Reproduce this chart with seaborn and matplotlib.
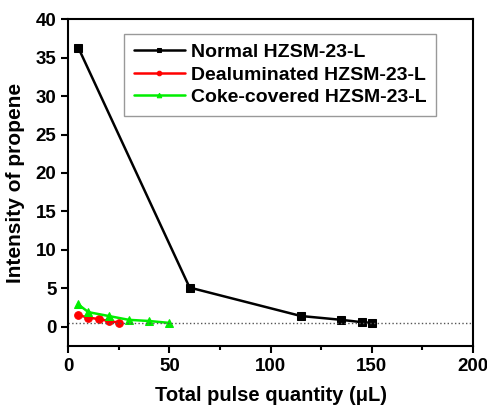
import matplotlib
matplotlib.use('Agg')
import matplotlib.pyplot as plt
import seaborn as sns
import pandas as pd
from matplotlib.ticker import MultipleLocator

# datos
normal_x = [5, 60, 115, 135, 145, 150]
normal_y = [36.3, 5.1, 1.4, 0.9, 0.6, 0.5]
dealu_x = [5, 10, 15, 20, 25]
dealu_y = [1.5, 1.2, 1.0, 0.75, 0.55]
coke_x = [5, 10, 20, 30, 40, 50]
coke_y = [2.9, 1.9, 1.4, 0.9, 0.75, 0.5]
baseline = 0.5

sns.set_style('ticks')
plt.rcParams['font.family'] = ['Liberation Sans', 'DejaVu Sans']
plt.rcParams['font.weight'] = 'bold'
plt.rcParams['text.color'] = 'black'
plt.rcParams['axes.labelcolor'] = 'black'
plt.rcParams['xtick.color'] = 'black'
plt.rcParams['ytick.color'] = 'black'

fig = plt.figure(figsize=(4.87, 4.08), dpi=100)
ax = fig.add_axes([0.14, 0.152, 0.831, 0.801])

series = [
    ('Normal HZSM-23-L', normal_x, normal_y, 'black', 's'),
    ('Dealuminated HZSM-23-L', dealu_x, dealu_y, 'red', 'o'),
    ('Coke-covered HZSM-23-L', coke_x, coke_y, '#00ee00', '^'),
]
for name, xs, ys, col, mk in series:
    df = pd.DataFrame({'x': xs, 'y': ys})
    sns.lineplot(data=df, x='x', y='y', ax=ax, color=col, marker=mk,
                 markersize=5.5, markeredgecolor=col, linewidth=1.8, label=name)

ax.axhline(baseline, color='#555555', linestyle=':', linewidth=1)

ax.set_xlim(0, 200)
ax.set_ylim(-2.5, 40)
ax.xaxis.set_major_locator(MultipleLocator(50))
ax.xaxis.set_minor_locator(MultipleLocator(25))
ax.yaxis.set_major_locator(MultipleLocator(5))
ax.tick_params(which='major', direction='out', length=5, width=1.5, labelsize=13.5)
ax.tick_params(which='minor', direction='out', length=3, width=1.5)
for lab in ax.get_xticklabels() + ax.get_yticklabels():
    lab.set_fontweight('bold')
for s in ax.spines.values():
    s.set_linewidth(1.5)
    s.set_visible(True)
    s.set_color('black')

ax.set_xlabel('Total pulse quantity (μL)', fontsize=14.5, fontweight='bold', labelpad=8)
ax.set_ylabel('Intensity of propene', fontsize=15, fontweight='bold', labelpad=8)

leg = ax.legend(loc='upper left', bbox_to_anchor=(0.115, 0.985), fontsize=14,
                frameon=True, fancybox=False, edgecolor='gray', markerscale=0.6,
                handlelength=2.6, handletextpad=0.3, labelspacing=0.25,
                borderpad=0.5)
leg.get_frame().set_linewidth(1)
for t in leg.get_texts():
    t.set_fontweight('bold')

fig.savefig('out.png', dpi=100)
